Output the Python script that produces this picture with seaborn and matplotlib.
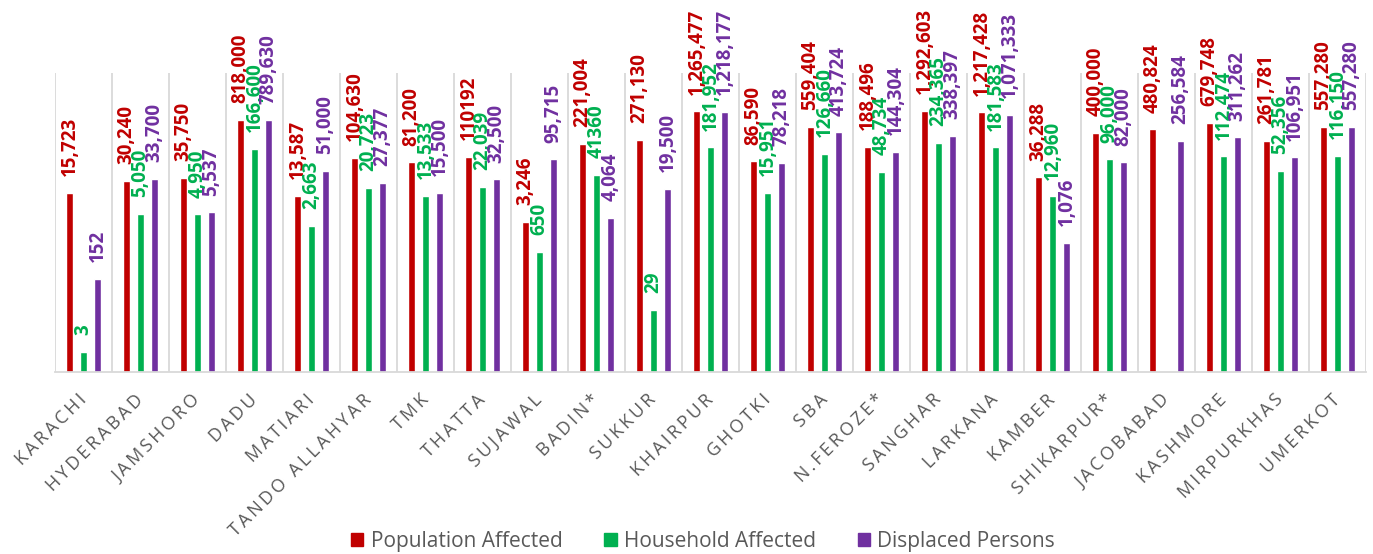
import pandas as pd
import numpy as np
import matplotlib.pyplot as plt
import seaborn as sns

sns.set_style("white")
plt.rcParams['font.family'] = ['Open Sans', 'DejaVu Sans']

districts = ['KARACHI', 'HYDERABAD', 'JAMSHORO', 'DADU', 'MATIARI', 'TANDO ALLAHYAR',
             'TMK', 'THATTA', 'SUJAWAL', 'BADIN*', 'SUKKUR', 'KHAIRPUR', 'GHOTKI',
             'SBA', 'N.FEROZE*', 'SANGHAR', 'LARKANA', 'KAMBER', 'SHIKARPUR*',
             'JACOBABAD', 'KASHMORE', 'MIRPURKHAS', 'UMERKOT']

population = [15723, 30240, 35750, 818000, 13587, 104630, 81200, 110192, 3246,
              221004, 271130, 1265477, 86590, 559404, 188496, 1292603, 1217428,
              36288, 400000, 480824, 679748, 261781, 557280]
household = [3, 5050, 4950, 166600, 2663, 20723, 13533, 22039, 650, 41360, 29,
             181952, 15951, 126660, 48734, 234365, 181583, 12960, 96000, np.nan,
             112474, 52356, 116150]
displaced = [152, 33700, 5537, 789630, 51000, 27377, 15500, 32500, 95715, 4064,
             19500, 1218177, 78218, 413724, 144304, 338397, 1071333, 1076, 82000,
             256584, 311262, 106951, 557280]

series = ['Population Affected', 'Household Affected', 'Displaced Persons']
colors = ['#C00000', '#00B050', '#7030A0']
# values printed in the source without thousands separator
no_comma = {110192, 41360}

df = pd.DataFrame({'District': districts, series[0]: population,
                   series[1]: household, series[2]: displaced})
long = df.melt(id_vars='District', var_name='Series', value_name='Value').dropna()

fig = plt.figure(figsize=(13.73, 5.54), dpi=100)
ax = fig.add_axes([0.040, 0.3285, 0.9549, 0.5395])

sns.barplot(data=long, x='District', y='Value', hue='Series', order=districts,
            hue_order=series, palette=colors, width=0.735, gap=0.5,
            saturation=1, legend=False, ax=ax)
ax.set_yscale('log')
ax.set_ylim(1, 1e7)
ax.set_xlim(-0.5, len(districts) - 0.5)


def fmt(v):
    v = int(round(v))
    return str(v) if v in no_comma else f'{v:,}'


for cont, col in zip(ax.containers, colors):
    ax.bar_label(cont, fmt=fmt, rotation=90, padding=12, color=col,
                 fontsize=13.5, fontweight='bold')

# category separators
ax.set_xticks(np.arange(-0.5, len(districts), 1), minor=True)
ax.grid(which='minor', axis='x', color='#D9D9D9', linewidth=1.3)
ax.grid(which='major', visible=False)
ax.tick_params(which='both', length=0)
ax.set_yticks([])
ax.set_xlabel('')
ax.set_ylabel('')
for s in ['top', 'left', 'right']:
    ax.spines[s].set_visible(False)
ax.spines['bottom'].set_color('#D9D9D9')
ax.spines['bottom'].set_linewidth(1.3)

spaced = ['\u2009'.join(d) for d in districts]
ax.set_xticks(range(len(districts)))
ax.set_xticklabels(spaced, rotation=45, ha='right', va='center',
                   rotation_mode='anchor', fontsize=13, color='#595959')
ax.tick_params(axis='x', pad=18)

handles = [plt.Rectangle((0, 0), 1, 1, color=c) for c in colors]
fig.legend(handles, series, loc='lower center', bbox_to_anchor=(0.512, -0.03),
           ncol=3, frameon=False, fontsize=15, labelcolor='#595959',
           handlelength=0.6, handleheight=0.6, handletextpad=0.35, columnspacing=2.0)

fig.savefig('out.png', dpi=100)
